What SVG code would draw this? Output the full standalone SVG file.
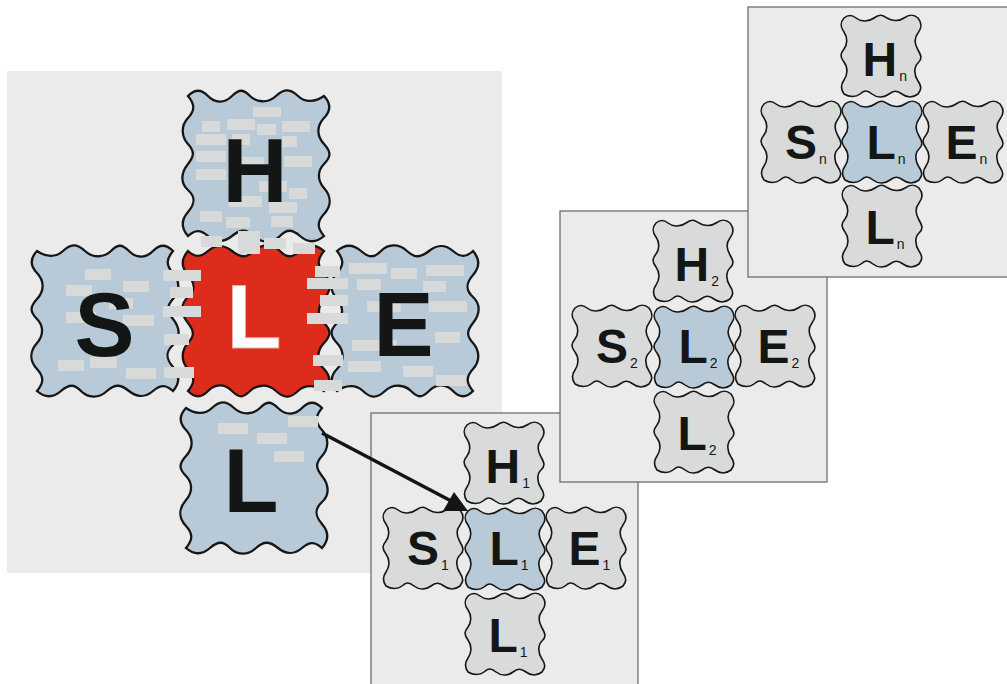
<svg xmlns="http://www.w3.org/2000/svg" xmlns:xlink="http://www.w3.org/1999/xlink" width="1007" height="684" viewBox="0 0 1007 684">
<style>
.panel{fill:#ebebeb;stroke:#6e6e6e;stroke-width:1.3}
.bg{fill:#ebebeb}
.bt{stroke:#161616;stroke-width:2.3}
.st{stroke:#161616;stroke-width:1.6}
.blue{fill:#b8cad7}
.gray{fill:#d9dbdb}
.red{fill:#dd2b1c}
.brick{fill:#d8dada}
.big{font-family:"Liberation Sans",Arial,sans-serif;font-weight:bold;font-size:90px;fill:#141616}
.sm{font-family:"Liberation Sans",Arial,sans-serif;font-weight:bold;font-size:48px;fill:#141616}
.sub{font-weight:normal;font-size:14px}
.conn{stroke:#141414;stroke-width:3.5;fill:none}
</style>
<defs>
<path id="btile" d="M0,0 c 6.7,-7 13.3,-7 20,0 s 16,8 24,0 s 12,-6 18,0 s 17.4,8 26,0 s 14.7,-7 22,0 s 17.4,6 26,0 c 7,7.3 7,14.7 0,22 s -8,17.4 0,26 s 6.5,13.4 0,20 s -7,16 0,24 s 8,17.4 0,26 s -6,14.7 0,22 c -8,7 -16,7 -24,0 s -13.4,-7 -20,0 s -17.4,8 -26,0 s -14.7,-6 -22,0 s -16,7 -24,0 s -13.4,-6 -20,0 c -7,-8 -7,-16 0,-24 s 8,-14.7 0,-22 s -7,-17.4 0,-26 s 6,-13.4 0,-20 s -8,-17.4 0,-26 s 6,-14.7 0,-22 z"/>
<path id="stile" d="M0,0 c 4,-3.3 8,-3.3 12,0 s 12,4.5 18,0 s 8.7,-2.7 13,0 s 11.4,4 17,0 s 9.4,-4 14,0 c 4,5 4,10 0,15 s -3.3,11.4 0,17 s 4.5,8.7 0,13 s -4,12 0,18 s 3.3,8.7 0,13 c -5.3,4 -10.7,4 -16,0 s -8.7,-3.3 -13,0 s -11.4,4.5 -17,0 s -8,-3.3 -12,0 s -10.7,3.3 -16,0 c -3.3,-4.6 -3.3,-9.4 0,-14 s 4.5,-12 0,-18 s -3.3,-8.7 0,-13 s 4,-11.4 0,-17 s -4,-9.4 0,-14 z"/>
<marker id="tri" markerUnits="userSpaceOnUse" orient="0" markerWidth="26" markerHeight="20" viewBox="0 0 26 20" refX="12" refY="11">
<path d="M11,0 L25,19 L0,19 Z" fill="#141414"/>
</marker>
</defs>

<rect class="bg" x="7" y="71" width="495" height="502"/>

<g id="big-H">
<use href="#btile" x="188" y="96" class="bt blue"/>
<g class="brick">
<rect x="253" y="107" width="28" height="10"/><rect x="202" y="121" width="18" height="11"/><rect x="227" y="119" width="28" height="11"/><rect x="257" y="124" width="19" height="11"/><rect x="282" y="121" width="28" height="11"/><rect x="196" y="134" width="30" height="11"/><rect x="232" y="134" width="18" height="11"/><rect x="282" y="136" width="15" height="11"/><rect x="196" y="151" width="30" height="11"/><rect x="242" y="157" width="22" height="11"/><rect x="284" y="156" width="28" height="11"/><rect x="196" y="169" width="30" height="11"/><rect x="259" y="181" width="28" height="11"/><rect x="289" y="188" width="18" height="11"/><rect x="229" y="196" width="33" height="11"/><rect x="269" y="202" width="28" height="11"/><rect x="200" y="211" width="22" height="11"/><rect x="226" y="217" width="24" height="11"/><rect x="271" y="216" width="22" height="11"/>
</g>
<text class="big" x="255" y="202" text-anchor="middle">H</text>
</g>

<g id="big-S">
<use href="#btile" transform="translate(173,251) scale(-1,1)" class="bt blue"/>
<g class="brick">
<rect x="85" y="269" width="26" height="11"/><rect x="66" y="285" width="26" height="11"/><rect x="123" y="281" width="26" height="11"/><rect x="109" y="298" width="24" height="11"/><rect x="66" y="312" width="30" height="11"/><rect x="123" y="315" width="31" height="11"/><rect x="90" y="357" width="27" height="11"/><rect x="58" y="360" width="26" height="11"/><rect x="126" y="368" width="30" height="11"/>
</g>
<text class="big" x="104.5" y="356" text-anchor="middle">S</text>
</g>

<g id="big-L-center">
<use href="#btile" transform="translate(188,391) scale(1,-1)" class="bt red"/>
<g class="brick">
<rect x="201" y="236" width="21" height="11"/><rect x="238" y="231" width="22" height="23"/><rect x="264" y="238" width="22" height="11"/><rect x="293" y="243" width="22" height="11"/><rect x="163" y="270" width="38" height="11"/><rect x="170" y="287" width="23" height="11"/><rect x="163" y="306" width="38" height="11"/><rect x="164" y="334" width="25" height="11"/><rect x="164" y="367" width="30" height="11"/>
</g>
<text class="big" x="226.4" y="348" style="fill:#ffffff;stroke:#f0a8a0;stroke-width:1">L</text>
</g>

<g id="big-E">
<use href="#btile" transform="translate(473,391) scale(-1,-1)" class="bt blue"/>
<g class="brick">
<rect x="315" y="266" width="25" height="11"/><rect x="307" y="278" width="41" height="11"/><rect x="320" y="295" width="28" height="11"/><rect x="307" y="313" width="41" height="11"/><rect x="313" y="355" width="30" height="11"/><rect x="314" y="380" width="28" height="11"/><rect x="349" y="263" width="38" height="11"/><rect x="391" y="268" width="26" height="11"/><rect x="426" y="265" width="38" height="11"/><rect x="357" y="279" width="24" height="11"/><rect x="423" y="281" width="23" height="11"/><rect x="367" y="301" width="34" height="11"/><rect x="429" y="301" width="38" height="11"/><rect x="352" y="340" width="45" height="11"/><rect x="435" y="332" width="25" height="11"/><rect x="348" y="361" width="33" height="11"/><rect x="403" y="366" width="30" height="11"/><rect x="436" y="375" width="30" height="11"/>
</g>
<text class="big" x="373.4" y="356">E</text>
</g>

<g id="big-L-bottom">
<use href="#btile" transform="translate(322,408) scale(-1,1)" class="bt blue"/>
<g class="brick">
<rect x="218" y="423" width="30" height="11"/><rect x="257" y="433" width="30" height="11"/><rect x="274" y="451" width="30" height="11"/><rect x="288" y="416" width="30" height="11"/>
</g>
<text class="big" x="223.4" y="512">L</text>
</g>

<g id="panel-1" transform="translate(371,413)">
<rect class="panel" x="0" y="0" width="267" height="280"/>
<g id="p1-H"><use href="#stile" x="96" y="12" class="st gray"/><text class="sm" x="114.5" y="70">H<tspan class="sub" dx="2" dy="5">1</tspan></text></g>
<g id="p1-S"><use href="#stile" x="15" y="97" class="st gray"/><text class="sm" x="36" y="152">S<tspan class="sub" dx="2" dy="5">1</tspan></text></g>
<g id="p1-L"><use href="#stile" x="97" y="98" class="st blue"/><text class="sm" x="118.5" y="152">L<tspan class="sub" dx="2" dy="5">1</tspan></text></g>
<g id="p1-E"><use href="#stile" x="178" y="97" class="st gray"/><text class="sm" x="197.5" y="152">E<tspan class="sub" dx="2" dy="5">1</tspan></text></g>
<g id="p1-Lb"><use href="#stile" x="97" y="183" class="st gray"/><text class="sm" x="117.5" y="239">L<tspan class="sub" dx="2" dy="5">1</tspan></text></g>
</g>

<g id="panel-2" transform="translate(560,211)">
<rect class="panel" x="0" y="0" width="267" height="271"/>
<g id="p2-H"><use href="#stile" x="96" y="12" class="st gray"/><text class="sm" x="114.5" y="70">H<tspan class="sub" dx="2" dy="5">2</tspan></text></g>
<g id="p2-S"><use href="#stile" x="15" y="97" class="st gray"/><text class="sm" x="36" y="152">S<tspan class="sub" dx="2" dy="5">2</tspan></text></g>
<g id="p2-L"><use href="#stile" x="97" y="98" class="st blue"/><text class="sm" x="118.5" y="152">L<tspan class="sub" dx="2" dy="5">2</tspan></text></g>
<g id="p2-E"><use href="#stile" x="178" y="97" class="st gray"/><text class="sm" x="197.5" y="152">E<tspan class="sub" dx="2" dy="5">2</tspan></text></g>
<g id="p2-Lb"><use href="#stile" x="97" y="183" class="st gray"/><text class="sm" x="117.5" y="239">L<tspan class="sub" dx="2" dy="5">2</tspan></text></g>
</g>

<g id="panel-n" transform="translate(748,7)">
<rect class="panel" x="0" y="0" width="270" height="270"/>
<g id="pn-H"><use href="#stile" x="96" y="11" class="st gray"/><text class="sm" x="114.5" y="69">H<tspan class="sub" dx="2" dy="5">n</tspan></text></g>
<g id="pn-S"><use href="#stile" x="16" y="97" class="st gray"/><text class="sm" x="37" y="152">S<tspan class="sub" dx="2" dy="5">n</tspan></text></g>
<g id="pn-L"><use href="#stile" x="97" y="97" class="st blue"/><text class="sm" x="118.5" y="152">L<tspan class="sub" dx="2" dy="5">n</tspan></text></g>
<g id="pn-E"><use href="#stile" x="178" y="97" class="st gray"/><text class="sm" x="197.5" y="152">E<tspan class="sub" dx="2" dy="5">n</tspan></text></g>
<g id="pn-Lb"><use href="#stile" x="97" y="181" class="st gray"/><text class="sm" x="117.5" y="237">L<tspan class="sub" dx="2" dy="5">n</tspan></text></g>
</g>

<g id="connectors">
<line class="conn" x1="322" y1="433" x2="455" y2="503" marker-end="url(#tri)"/>
</g>
</svg>
